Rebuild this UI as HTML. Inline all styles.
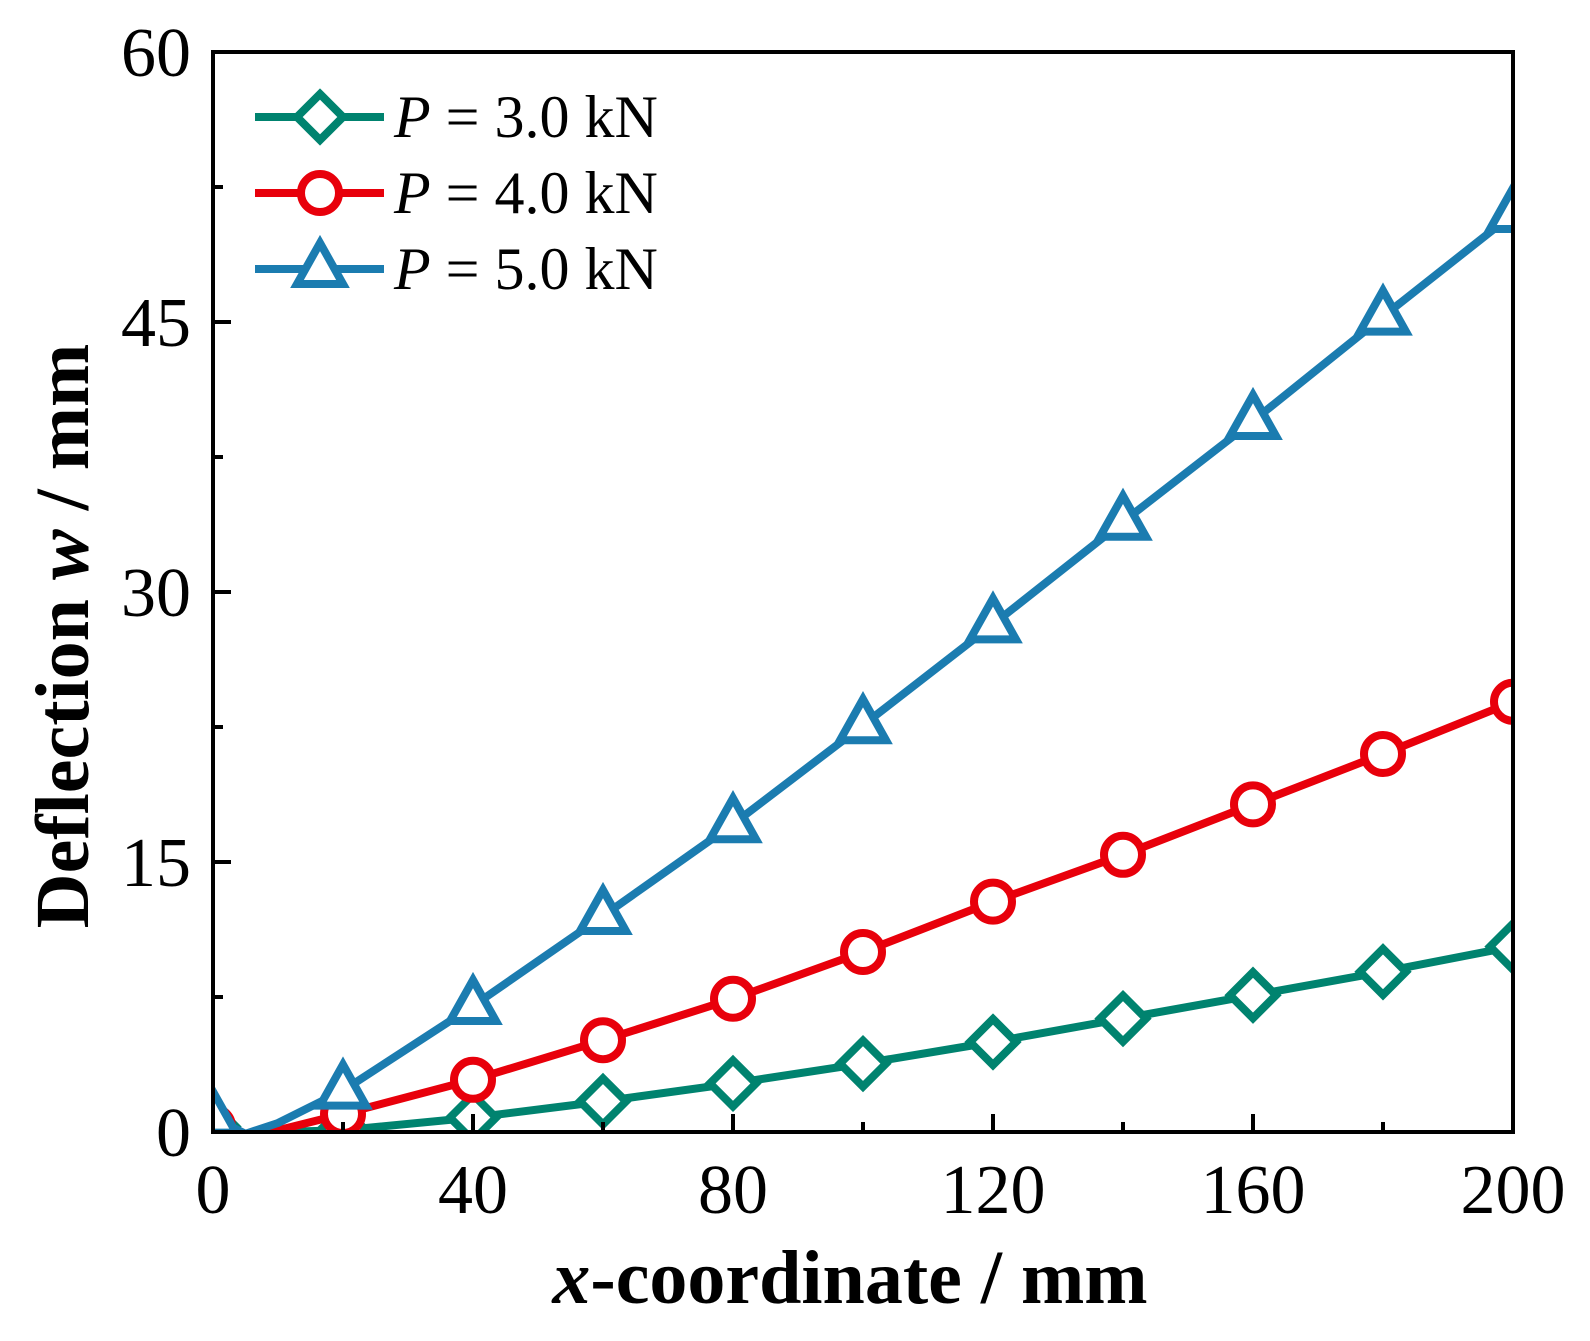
<!DOCTYPE html>
<html><head><meta charset="utf-8"><style>
html,body{margin:0;padding:0;background:#fff;}
svg{display:block;font-family:"Liberation Serif",serif;}
</style></head><body>
<svg id="chart" width="1590" height="1341" viewBox="0 0 1590 1341" xmlns="http://www.w3.org/2000/svg">
<defs><clipPath id="clip"><rect x="213" y="52" width="1300" height="1080"/></clipPath></defs>
<g id="series" clip-path="url(#clip)"></g>
<rect x="213" y="52" width="1300" height="1080" fill="none" stroke="#000" stroke-width="4"/>
<g id="axes"></g>
<text x="850" y="1303" text-anchor="middle" font-size="76" font-weight="bold"><tspan font-style="italic">x</tspan>-coordinate / mm</text>
<text transform="translate(88,636) rotate(-90)" text-anchor="middle" font-size="76" font-weight="bold">Deflection <tspan font-style="italic">w</tspan> / mm</text>
<g id="legend"></g>
</svg>
<script>
const xValues=[0,5,10,20,40,60,80,100,120,140,160,180,200];
const markerX=[0,20,40,60,80,100,120,140,160,180,200];
const w30=[0.3,-0.1,0,0.1,0.8,1.7,2.7,3.8,5.0,6.3,7.6,8.9,10.3];
const w40=[0.3,-0.1,0.1,1.0,2.9,5.1,7.4,10.0,12.8,15.4,18.2,21.0,23.9];
const w50=[0.8,-0.1,0.5,2.3,7.0,12.0,17.1,22.6,28.2,33.9,39.5,45.3,51.0];
const xTicks=[0,40,80,120,160,200];
const xMinor=[20,60,100,140,180];
const yTicks=[0,15,30,45,60];
const yMinor=[7.5,22.5,37.5,52.5];
const labels=["P = 3.0 kN","P = 4.0 kN","P = 5.0 kN"];
const X=v=>213+v/200*1300, Y=v=>1132-v/60*1080;
const NS="http://www.w3.org/2000/svg";
function mk(t,a,p){const e=document.createElementNS(NS,t);for(const k in a)e.setAttribute(k,a[k]);p.appendChild(e);return e;}
const axes=document.getElementById('axes');
xTicks.forEach(v=>{const l=mk('line',{x1:X(v),x2:X(v),y1:1132,y2:1114,stroke:'#000','stroke-width':4},axes);


const t=mk('text',{x:X(v),y:1213,'text-anchor':'middle','font-size':70},axes);t.textContent=v;

});
xMinor.forEach(v=>{const l=mk('line',{x1:X(v),x2:X(v),y1:1132,y2:1122,stroke:'#000','stroke-width':4},axes);

});
yTicks.forEach(v=>{const l=mk('line',{x1:213,x2:231,y1:Y(v),y2:Y(v),stroke:'#000','stroke-width':4},axes);


const t=mk('text',{x:191,y:Y(v)+24,'text-anchor':'end','font-size':70},axes);t.textContent=v;

});
yMinor.forEach(v=>{const l=mk('line',{x1:213,x2:223,y1:Y(v),y2:Y(v),stroke:'#000','stroke-width':4},axes);

});
function marker(kind,cx,cy,color,p){let e;
if(kind==='d')e=mk('polygon',{points:`${cx},${cy-23} ${cx+23},${cy} ${cx},${cy+23} ${cx-23},${cy}`},p);
else if(kind==='o')e=mk('circle',{cx:cx,cy:cy,r:19},p);
else e=mk('polygon',{points:`${cx},${cy-26} ${cx+23},${cy+15} ${cx-23},${cy+15}`},p);
e.setAttribute('fill','#fff');e.setAttribute('stroke',color);e.setAttribute('stroke-width',8);return e;}
const series=[[w30,'#00836f','d'],[w40,'#e8000b','o'],[w50,'#1b7cb0','t']];
const g=document.getElementById('series');
series.forEach(([d,c,k],i)=>{
const pts=xValues.map((x,j)=>X(x)+','+Y(d[j])).join(' ');
const pl=mk('polyline',{points:pts,fill:'none',stroke:c,'stroke-width':8,'stroke-linejoin':'round'},g);


markerX.forEach(x=>{const j=xValues.indexOf(x);const m=marker(k,X(x),Y(d[j]),c,g);

});
const lg=document.getElementById('legend');const ly=117+i*76;
const ll=mk('line',{x1:255,x2:384,y1:ly,y2:ly,stroke:c,'stroke-width':8},lg);


const lm=marker(k,320,ly,c,lg);


const t=mk('text',{x:394,y:ly+20,'font-size':60},lg);
t.innerHTML='<tspan font-style="italic">P</tspan>'+labels[i].slice(1);


});
</script>
</body></html>
